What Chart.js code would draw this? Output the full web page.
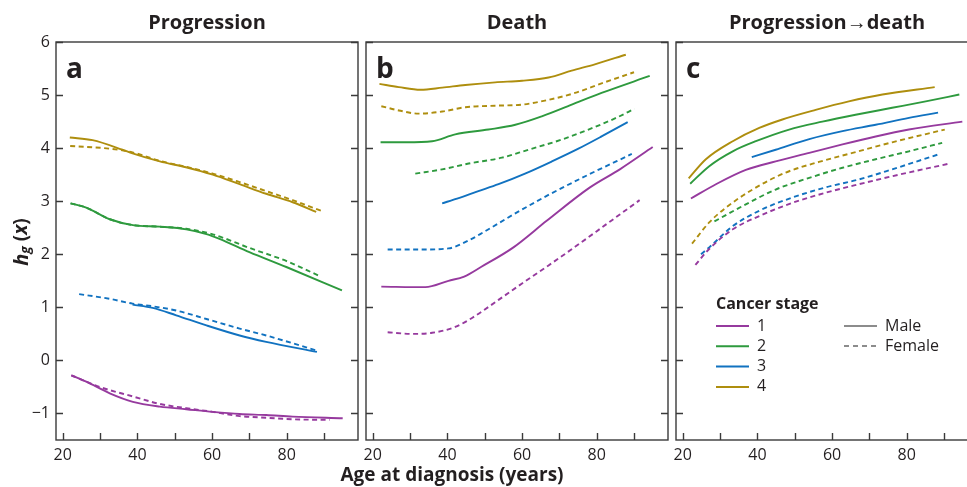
<!DOCTYPE html>
<html lang="en">
<head>
<meta charset="UTF-8">
<title>Hazard by age at diagnosis</title>
<script src="https://cdn.jsdelivr.net/npm/chart.js"></script>
<style>
    body { margin: 0; background: #fff; overflow: hidden; width: 967px; height: 487px; position: relative; }
    canvas { position: absolute; left: 0; top: 0; }
</style>
</head>
<body>
<canvas id="chartA" width="967" height="487"></canvas>
<canvas id="chartB" width="967" height="487"></canvas>
<canvas id="chartC" width="1000" height="487"></canvas>
<script>
// values: [age, h_g(x)]
// panel a - progression
const progMale1 = [[22.3,-0.28],[26.3,-0.40],[32.6,-0.62],[38.8,-0.78],[46,-0.87],[53.1,-0.92],[60.2,-0.97],[67.4,-1.01],[74.5,-1.03],[81.6,-1.06],[95,-1.09]];
const progFemale1 = [[22.3,-0.28],[29.9,-0.50],[38.8,-0.68],[46,-0.82],[53.1,-0.90],[60.2,-0.97],[67.4,-1.05],[74.5,-1.08],[81.6,-1.11],[91.5,-1.12]];
const progMale2 = [[22.1,2.96],[26.3,2.88],[32.6,2.66],[38.8,2.55],[46,2.52],[53.1,2.47],[58.5,2.38],[62,2.29],[70,2.04],[79.9,1.76],[94.8,1.32]];
const progFemale2 = [[22.1,2.96],[26.3,2.88],[32.6,2.66],[38.8,2.55],[46,2.52],[53.1,2.48],[60,2.38],[70,2.12],[80,1.87],[88.5,1.60]];
const progMale3 = [[38.7,1.05],[44.1,0.99],[50.4,0.85],[58.5,0.66],[67.4,0.47],[74.5,0.35],[88.1,0.16]];
const progFemale3 = [[24.4,1.25],[32.6,1.16],[38.7,1.07],[44.1,1.02],[50.4,0.94],[58.5,0.78],[67.4,0.60],[74.5,0.47],[87.8,0.19]];
const progMale4 = [[21.9,4.20],[28,4.15],[36,3.97],[38.7,3.90],[46,3.75],[53,3.64],[60.2,3.50],[67.4,3.32],[74.5,3.14],[81.6,2.98],[87.9,2.80]];
const progFemale4 = [[22,4.04],[32.6,3.99],[38.7,3.92],[46,3.76],[53,3.65],[60.2,3.52],[67.4,3.36],[74.5,3.19],[81.6,3.02],[89.6,2.81]];

// panel b - death
const deathMale1 = [[22.3,1.39],[34.1,1.38],[40.3,1.50],[44.5,1.58],[49,1.76],[57.7,2.13],[66.6,2.63],[78.2,3.26],[86.2,3.60],[95,4.02]];
const deathFemale1 = [[24,0.53],[30.5,0.50],[35.9,0.52],[42.1,0.63],[46.6,0.80],[53.7,1.14],[60,1.45],[67.1,1.79],[74.2,2.14],[81.3,2.50],[86,2.74],[91.5,3.02]];
const deathMale2 = [[22.1,4.11],[29,4.11],[35.9,4.13],[42.1,4.26],[51,4.35],[58.2,4.44],[65.3,4.60],[73.3,4.82],[81.3,5.04],[94.2,5.36]];
const deathFemale2 = [[31.4,3.52],[38.6,3.60],[45.7,3.71],[54.6,3.82],[61.7,3.97],[70.6,4.16],[77.8,4.35],[84.9,4.56],[90.1,4.74]];
const deathMale3 = [[38.6,2.96],[42.6,3.05],[48.3,3.19],[53.7,3.32],[60.8,3.52],[68,3.75],[75.1,3.99],[81.3,4.22],[88.3,4.49]];
const deathFemale3 = [[24,2.09],[33.2,2.09],[40.3,2.11],[45.7,2.26],[48.8,2.38],[57.7,2.75],[66.6,3.10],[77.8,3.50],[89.4,3.89]];
const deathMale4 = [[21.8,5.21],[27,5.15],[32.8,5.10],[38.6,5.14],[44.8,5.19],[52.8,5.24],[60,5.27],[67.1,5.33],[73.3,5.46],[79.5,5.58],[87.8,5.76]];
const deathFemale4 = [[22.3,4.79],[27,4.71],[32.3,4.65],[38.6,4.69],[44.8,4.77],[52.8,4.80],[60,4.82],[67.1,4.91],[74.2,5.04],[81.3,5.22],[90,5.43]];

// panel c - progression -> death
const pdMale1 = [[22.2,3.05],[28.9,3.32],[36.9,3.59],[44.9,3.75],[53.9,3.91],[62.8,4.07],[71.7,4.22],[80.6,4.35],[94.9,4.50]];
const pdFemale1 = [[23.4,1.80],[27.1,2.10],[33.4,2.47],[40.5,2.72],[49.4,2.97],[58.3,3.16],[67.2,3.32],[77.9,3.50],[91.5,3.71]];
const pdMale2 = [[22,3.33],[27.1,3.66],[33.4,3.94],[39.6,4.13],[48.5,4.35],[57.4,4.50],[66.3,4.63],[76.1,4.76],[85.1,4.88],[94.1,5.01]];
const pdFemale2 = [[28.5,2.62],[36.9,2.94],[44.9,3.22],[53.9,3.44],[62.8,3.63],[71.7,3.79],[80.6,3.94],[89.5,4.10]];
const pdMale3 = [[38.5,3.83],[44.9,3.97],[53.9,4.17],[62.8,4.32],[71.7,4.44],[80.6,4.57],[88.4,4.67]];
const pdFemale3 = [[24.9,2.00],[27.1,2.13],[33.4,2.53],[40.5,2.82],[49.4,3.07],[58.3,3.26],[67.2,3.41],[76.1,3.60],[88.4,3.88]];
const pdMale4 = [[21.6,3.43],[26.2,3.79],[33.4,4.13],[40.5,4.38],[46.7,4.54],[55.6,4.72],[64.5,4.88],[73.5,5.01],[87.5,5.15]];
const pdFemale4 = [[22.5,2.20],[27.1,2.60],[31.6,2.88],[38.7,3.22],[47.6,3.54],[56.5,3.74],[65.5,3.91],[76.1,4.11],[90.2,4.35]];

const stageLabels = ['1', '2', '3', '4'];
const stageColors = ['#963a9e', '#2e9a3e', '#1172c0', '#ae8e0e'];
const xTicks = [20, 30, 40, 50, 60, 70, 80, 90];
const xTickLabels = [20, 40, 60, 80];
const yTicks = [-1, 0, 1, 2, 3, 4, 5, 6];

const FONT = '"Open Sans", "Noto Sans", sans-serif';
const INK = '#231f20';

function toPoints(arr) {
    return arr.map(p => ({ x: p[0], y: p[1] }));
}

function makeDatasets(males, females) {
    const ds = [];
    for (let i = 0; i < 4; i++) {
        ds.push({ label: 'Male ' + stageLabels[i], data: toPoints(males[i]), borderColor: stageColors[i], borderWidth: 1.9 });
        ds.push({ label: 'Female ' + stageLabels[i], data: toPoints(females[i]), borderColor: stageColors[i], borderWidth: 1.9, borderDash: [5, 3.5] });
    }
    return ds;
}

// frame, inward ticks, tick labels, titles
const framePlugin = {
    id: 'frame',
    afterDraw(chart, args, opts) {
        const c = chart.ctx;
        const a = chart.chartArea;
        const xs = chart.scales.x, ys = chart.scales.y;
        c.save();
        c.strokeStyle = '#3a3a3a';
        c.lineWidth = 1.4;
        c.strokeRect(a.left, a.top, a.right - a.left, a.bottom - a.top);
        c.beginPath();
        xTicks.forEach(t => {
            const px = Math.round(xs.getPixelForValue(t)) + 0.5;
            c.moveTo(px, a.bottom);
            c.lineTo(px, a.bottom - 7);
        });
        yTicks.forEach(t => {
            const py = Math.round(ys.getPixelForValue(t)) + 0.5;
            c.moveTo(a.left, py); c.lineTo(a.left + 7, py);
            c.moveTo(a.right, py); c.lineTo(a.right - 7, py);
        });
        c.stroke();

        c.fillStyle = INK;
        c.font = '16px ' + FONT;
        c.textAlign = 'center';
        c.textBaseline = 'top';
        xTickLabels.forEach(t => c.fillText(String(t), xs.getPixelForValue(t), a.bottom + 7));
        if (opts.yLabels) {
            c.textAlign = 'right';
            c.textBaseline = 'middle';
            yTicks.forEach(t => c.fillText(t < 0 ? '\u2212' + Math.abs(t) : String(t), a.left - 6, ys.getPixelForValue(t)));
        }

        c.font = 'bold 20px ' + FONT;
        c.textAlign = 'center';
        c.textBaseline = 'middle';
        c.fillText(opts.title, (a.left + a.right) / 2, 23);

        c.font = 'bold 28px ' + FONT;
        c.textAlign = 'left';
        c.textBaseline = 'alphabetic';
        c.fillText(opts.letter, a.left + 10, a.top + 36);
        c.restore();
    }
};

// axis titles drawn on panel a
const axisTitlePlugin = {
    id: 'axisTitles',
    afterDraw(chart) {
        const c = chart.ctx;
        c.save();
        c.fillStyle = INK;
        c.font = 'bold 19px ' + FONT;
        c.textAlign = 'center';
        c.textBaseline = 'middle';
        c.fillText('Age at diagnosis (years)', 452, 476);

        c.translate(22, 242);
        c.rotate(-Math.PI / 2);
        c.textAlign = 'left';
        c.textBaseline = 'middle';
        const parts = [
            { t: 'h', f: 'italic bold 20px ' + FONT, dy: 0 },
            { t: 'g', f: 'italic bold 14px ' + FONT, dy: 4 },
            { t: ' (', f: 'bold 19px ' + FONT, dy: 0 },
            { t: 'x', f: 'italic bold 19px ' + FONT, dy: 0 },
            { t: ')', f: 'bold 19px ' + FONT, dy: 0 }
        ];
        let w = 0;
        parts.forEach(p => { c.font = p.f; w += c.measureText(p.t).width; });
        let x = -w / 2;
        parts.forEach(p => {
            c.font = p.f;
            c.fillText(p.t, x, p.dy);
            x += c.measureText(p.t).width;
        });
        c.restore();
    }
};

// legend on panel c
const legendPlugin = {
    id: 'stageLegend',
    afterDraw(chart) {
        const c = chart.ctx;
        c.save();
        c.fillStyle = INK;
        c.font = 'bold 16px ' + FONT;
        c.textBaseline = 'middle';
        c.textAlign = 'left';
        c.fillText('Cancer stage', 716, 304);
        c.font = '16px ' + FONT;
        c.lineWidth = 2;
        stageLabels.forEach((s, i) => {
            const y = 326 + i * 20.3;
            c.strokeStyle = stageColors[i];
            c.beginPath(); c.moveTo(716, y); c.lineTo(749, y); c.stroke();
            c.fillText(s, 757, y);
        });
        c.strokeStyle = '#8c8c8c';
        c.beginPath(); c.moveTo(844, 326); c.lineTo(877, 326); c.stroke();
        c.setLineDash([5, 4]);
        c.beginPath(); c.moveTo(844, 346); c.lineTo(877, 346); c.stroke();
        c.setLineDash([]);
        c.fillText('Male', 885, 326);
        c.fillText('Female', 885, 346);
        c.restore();
    }
};

function makeChart(id, datasets, padding, opts, extra) {
    return new Chart(document.getElementById(id), {
        type: 'line',
        data: { datasets },
        options: {
            responsive: false,
            animation: false,
            layout: { padding },
            elements: { point: { radius: 0 }, line: { tension: 0.35, cubicInterpolationMode: 'monotone' } },
            scales: {
                x: { type: 'linear', min: 18.2, max: 99.1, display: false },
                y: { type: 'linear', min: -1.5, max: 6, display: false }
            },
            plugins: { legend: { display: false }, tooltip: { enabled: false }, frame: opts }
        },
        plugins: [framePlugin].concat(extra || [])
    });
}

makeChart('chartA',
    makeDatasets([progMale1, progMale2, progMale3, progMale4], [progFemale1, progFemale2, progFemale3, progFemale4]),
    { left: 56, top: 42, right: 967 - 358, bottom: 47 },
    { title: 'Progression', letter: 'a', yLabels: true }, [axisTitlePlugin]);

makeChart('chartB',
    makeDatasets([deathMale1, deathMale2, deathMale3, deathMale4], [deathFemale1, deathFemale2, deathFemale3, deathFemale4]),
    { left: 366, top: 42, right: 967 - 668, bottom: 47 },
    { title: 'Death', letter: 'b', yLabels: false });

makeChart('chartC',
    makeDatasets([pdMale1, pdMale2, pdMale3, pdMale4], [pdFemale1, pdFemale2, pdFemale3, pdFemale4]),
    { left: 676, top: 42, right: 1000 - 978, bottom: 47 },
    { title: 'Progression\u2192death', letter: 'c', yLabels: false }, [legendPlugin]);
</script>
</body>
</html>
